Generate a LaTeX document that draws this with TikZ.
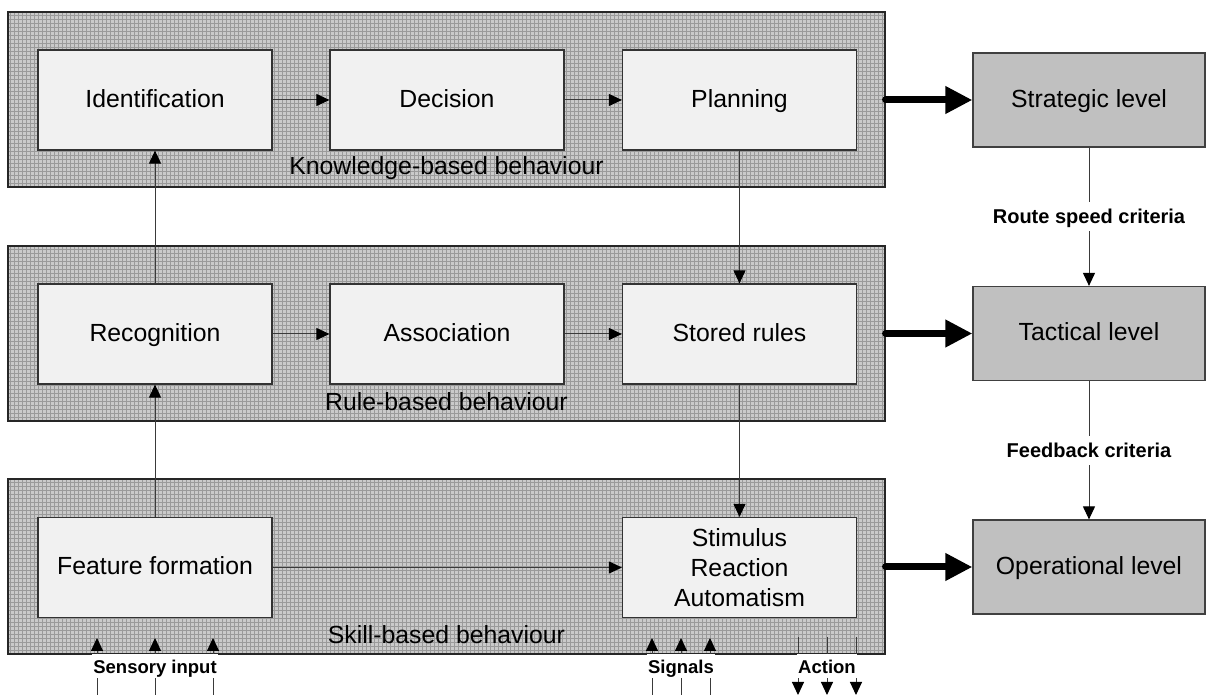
\documentclass[tikz,border=0pt]{standalone}
\usepackage{fontspec}
\setmainfont{Liberation Sans}
\usepackage{tikz}
\usetikzlibrary{calc,arrows.meta}
\definecolor{sk-band}{HTML}{CACACA}
\definecolor{sk-grid}{HTML}{9A9A9A}
\definecolor{sk-box}{HTML}{F1F1F1}
\definecolor{sk-level}{HTML}{C0C0C0}
\definecolor{sk-line}{HTML}{3A3A3A}

\begin{document}
\begin{tikzpicture}[x=0.5pt, y=-0.5pt,
    band/.style={rectangle, draw=black!85, line width=0.6pt, fill=sk-band,
        minimum width=438.5pt, minimum height=87.5pt, inner sep=0pt,
        path picture={\draw[sk-grid, line width=0.3pt, step=2pt]
            (path picture bounding box.south west) grid (path picture bounding box.north east);}},
    oneline/.style={text height=0.93em, text depth=0.21em},
    bandtext/.style={oneline, font=\fontsize{12.4}{15}\selectfont, inner sep=0pt},
    stage/.style={rectangle, draw=black!80, line width=0.6pt, fill=sk-box,
        minimum width=117pt, minimum height=50pt, align=center,
        font=\fontsize{12.4}{15}\selectfont},
    level/.style={rectangle, oneline, draw=black!75, line width=0.6pt, fill=sk-level,
        minimum width=116pt, minimum height=47pt,
        font=\fontsize{12.4}{15}\selectfont},
    flow/.style={sk-line, line width=0.5pt, -{Triangle[length=6.5pt, width=6pt, color=black]}},
    bigflow/.style={black, line width=3.5pt, line cap=round, -{Triangle[length=13.5pt, width=13pt]}},
    crit/.style={fill=white, text=black, oneline, inner sep=1.5pt, font=\bfseries\fontsize{10}{12}\selectfont},
    inlabel/.style={fill=white, text=black, oneline, inner xsep=0.5pt, inner ysep=0.5pt, font=\bfseries\fontsize{9.25}{11}\selectfont}]

    \useasboundingbox (0,0) rectangle (1207,695);

    % Three behaviour bands
    \node[band] (kb) at (446.5, 99.5) {};
    \node[band] (rb) at (446.5, 333.5) {};
    \node[band] (sb) at (446.5, 566.5) {};

    \node[bandtext] at ($(kb.south)+(0,-20)$) {Knowledge-based behaviour};
    \node[bandtext] at ($(rb.south)+(0,-18)$) {Rule-based behaviour};
    \node[bandtext] at ($(sb.south)+(0,-18)$) {Skill-based behaviour};

    % Stages inside the bands
    \node[stage, oneline] (ident) at (155, 100) {Identification};
    \node[stage, oneline] (decis) at (447, 100) {Decision};
    \node[stage, oneline] (plan)  at (739.5, 100) {Planning};

    \node[stage, oneline] (recog) at (155, 334) {Recognition};
    \node[stage, oneline] (assoc) at (447, 334) {Association};
    \node[stage, oneline] (rules) at (739.5, 334) {Stored rules};

    \node[stage, oneline] (feat) at (155, 567.5) {Feature formation};
    \node[stage] (stim) at (739.5, 567.5) {Stimulus\\Reaction\\Automatism};

    \draw[flow] (ident) -- (decis);
    \draw[flow] (decis) -- (plan);
    \draw[flow] (recog) -- (assoc);
    \draw[flow] (assoc) -- (rules);
    \draw[flow] (feat) -- (stim);

    \draw[flow] (feat) -- (recog);
    \draw[flow] (recog) -- (ident);
    \draw[flow] (plan) -- (rules);
    \draw[flow] (rules) -- (stim);

    % Levels on the right
    \node[level] (strat) at (1089, 100) {Strategic level};
    \node[level] (tact)  at (1089, 333.5) {Tactical level};
    \node[level] (oper)  at (1089, 567) {Operational level};

    \draw[flow] (strat) -- node[crit] {Route speed criteria} (tact);
    \draw[flow] (tact) -- node[crit] {Feedback criteria} (oper);

    \draw[bigflow] (kb.east |- strat.west) -- (strat.west);
    \draw[bigflow] (rb.east |- tact.west) -- (tact.west);
    \draw[bigflow] (sb.east |- oper.west) -- (oper.west);

    % Inputs and outputs below the skill band
    \foreach \x [count=\i] in {97, 155, 213} {
        \coordinate (sens-b\i) at (\x, 695);
        \coordinate (sens-t\i) at (\x, 638);
        \draw[flow] (sens-b\i) -- (sens-t\i);
    }
    \foreach \x [count=\i] in {652, 681, 710} {
        \coordinate (sig-b\i) at (\x, 695);
        \coordinate (sig-t\i) at (\x, 638);
        \draw[flow] (sig-b\i) -- (sig-t\i);
    }
    \foreach \x [count=\i] in {798, 827, 856} {
        \coordinate (act-t\i) at (\x, 637);
        \coordinate (act-b\i) at (\x, 695);
        \draw[flow] (act-t\i) -- (act-b\i);
    }

    \node[inlabel] (sens) at (155, 666) {Sensory input};
    \node[inlabel] (sig)  at (681, 666) {Signals};
    \node[inlabel] (act)  at (827, 666) {Action};
\end{tikzpicture}
\end{document}
